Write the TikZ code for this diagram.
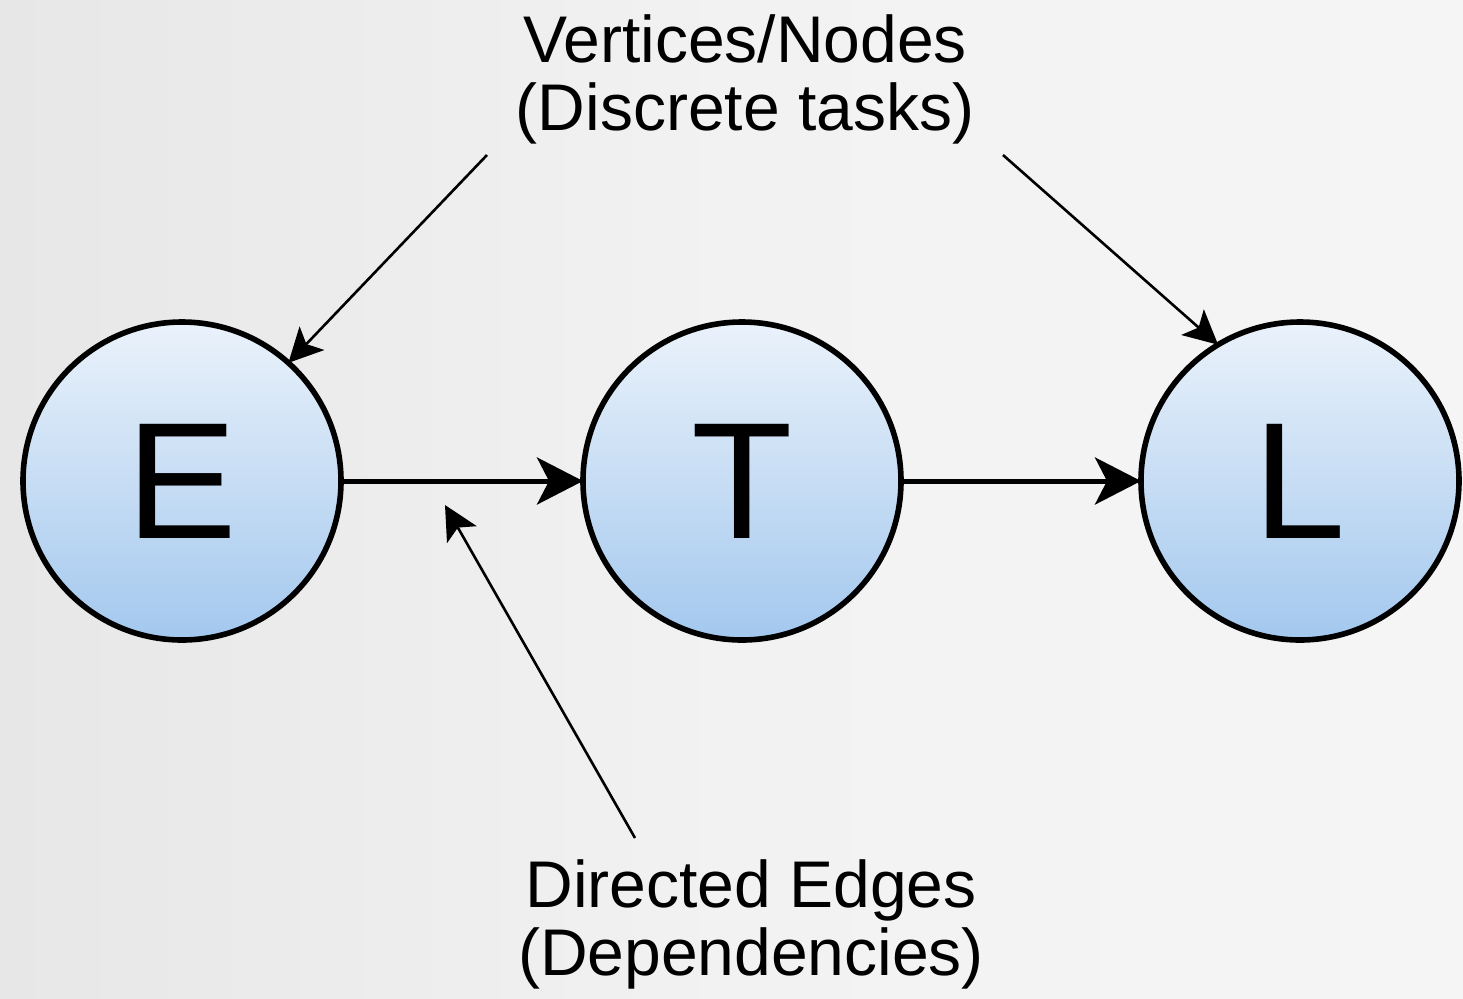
\documentclass[tikz,border=0pt]{standalone}
\usepackage{fontspec}
\setmainfont{Liberation Sans}
\usetikzlibrary{arrows.meta}

\definecolor{bgleft}{HTML}{E7E7E7}
\definecolor{bgmid}{HTML}{F2F2F2}
\definecolor{bgright}{HTML}{F5F5F5}
\definecolor{balltop}{HTML}{EAF2FB}
\definecolor{ballmid}{HTML}{C7DDF4}
\definecolor{ballbot}{HTML}{A3C8EE}

\tikzset{
  stage/.style={circle, draw=black, line width=2.8pt, minimum size=159pt,
    inner sep=0pt, outer sep=0pt,
    top color=balltop, bottom color=ballbot, middle color=ballmid,
    font=\fontsize{83pt}{83pt}\selectfont},
  flow/.style={line width=2.5pt, -{Stealth[length=23pt, width=23.5pt, inset=6pt]}},
  pointer/.style={line width=1.3pt, -{Stealth[length=17pt, width=17pt, inset=4pt]}},
  caption/.style={align=center, inner sep=0pt,
    font=\fontsize{33pt}{34pt}\selectfont}
}

\begin{document}
\begin{tikzpicture}[x=0.5pt, y=-0.5pt]
  % backdrop
  \useasboundingbox (0,0) rectangle (1463,998);
  \shade[left color=bgleft, right color=bgright, middle color=bgmid]
    (0,0) rectangle (1463,998);

  % pipeline stages
  \node[stage] (E) at (182,481) {E};
  \node[stage] (T) at (742,481) {T};
  \node[stage] (L) at (1300,481) {L};

  % dependencies
  \draw[flow] (E) -- (T);
  \draw[flow] (T) -- (L);

  % labels
  \node[caption] (vlabel) at (745,79) {Vertices/Nodes\\(Discrete tasks)};
  \node[caption] (elabel) at (751,924) {Directed Edges\\(Dependencies)};

  % label pointers
  \coordinate (vsrcE) at (487,155);
  \coordinate (vsrcL) at (1003,155);
  \coordinate (esrc) at (635,838);
  \coordinate (etip) at (445,505);
  \draw[pointer] (vsrcE) -- (E.48);
  \draw[pointer] (vsrcL) -- (L.121);
  \draw[pointer] (esrc) -- (etip);
\end{tikzpicture}
\end{document}
